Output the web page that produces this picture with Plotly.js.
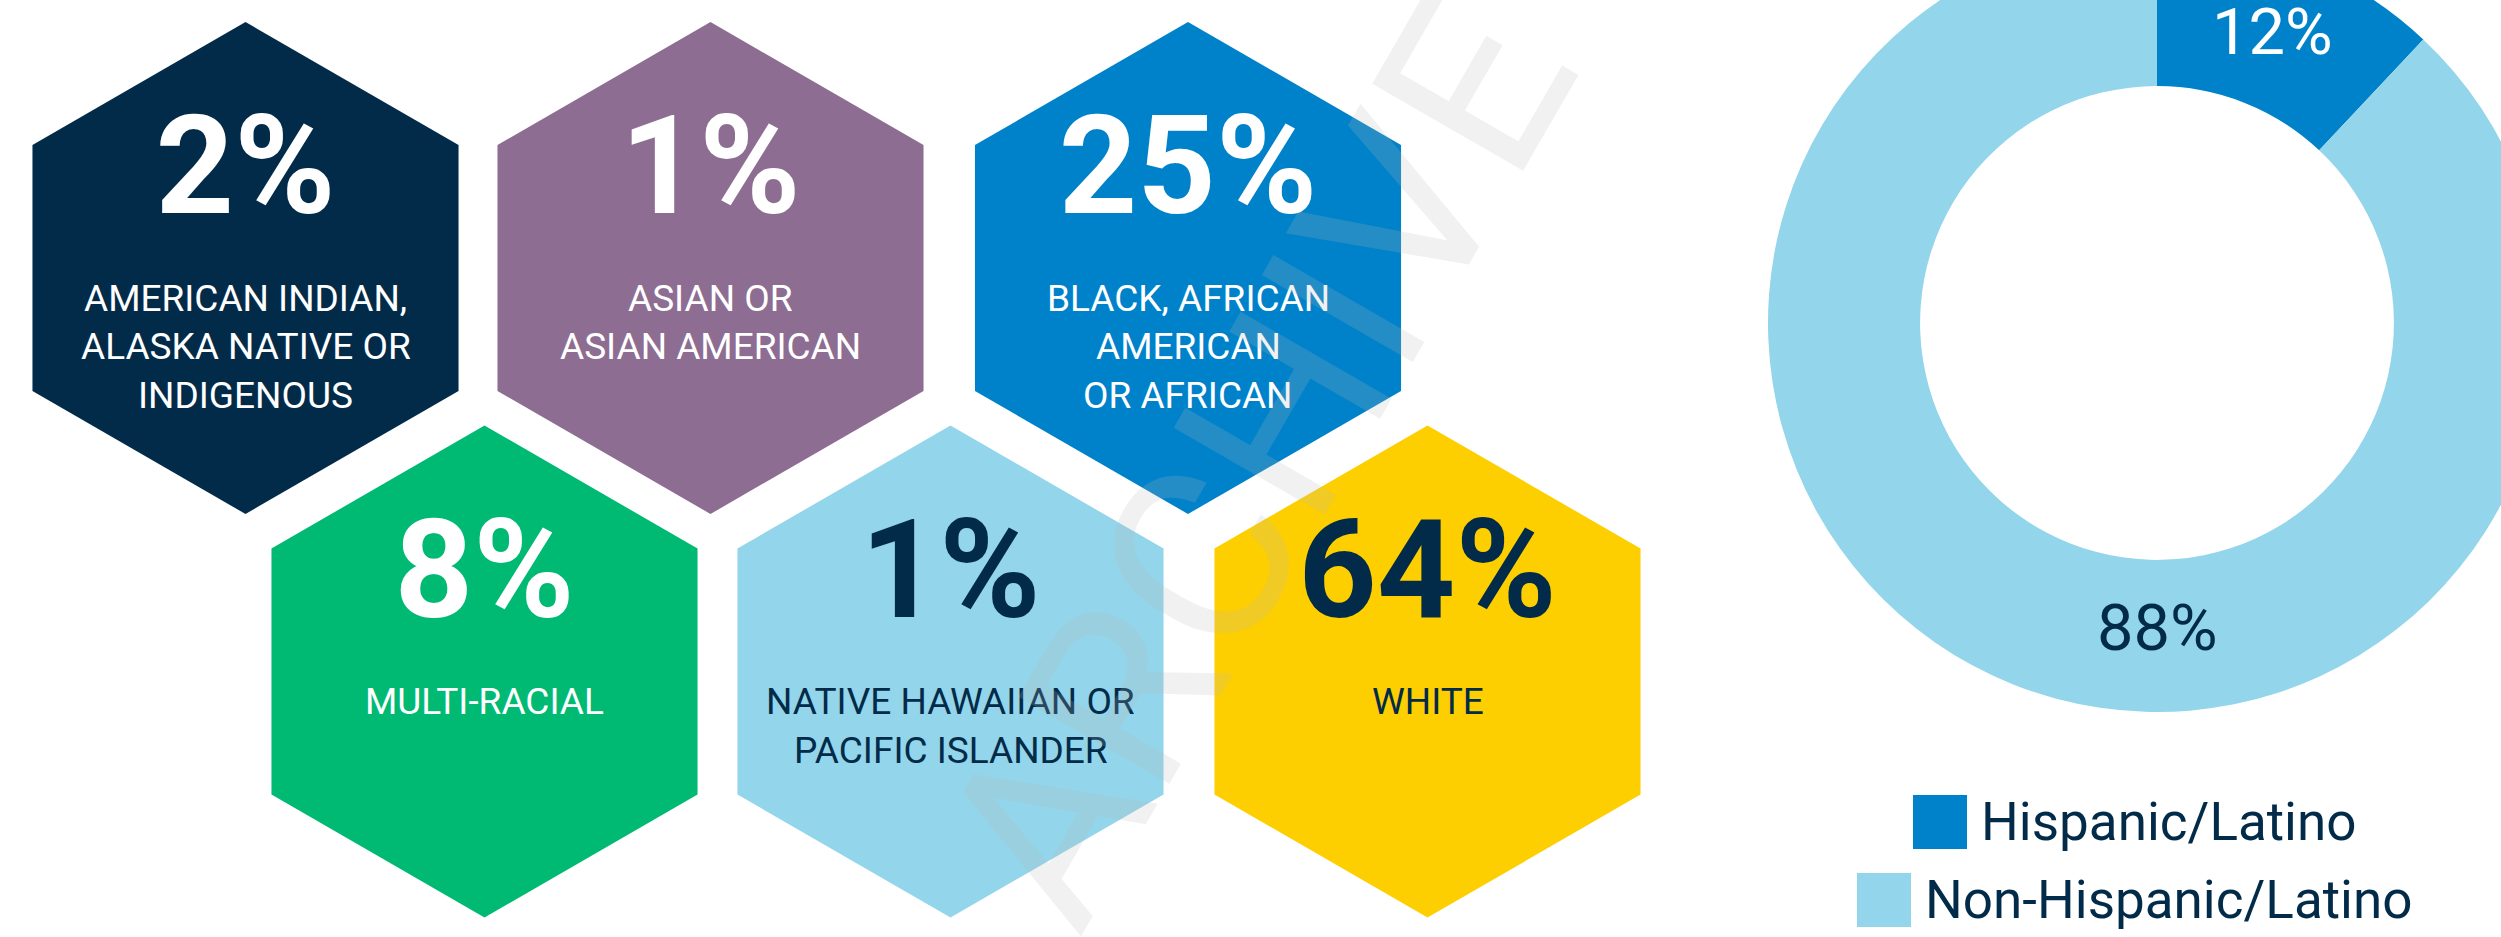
<!DOCTYPE html>
<html>
<head>
<meta charset="utf-8">
<script src="https://cdn.plot.ly/plotly-3.0.1.min.js"></script>
<style>
  html, body { margin: 0; padding: 0; background: #ffffff; overflow: hidden; width: 2501px; height: 937px; }
  #chart { position: absolute; left: 0; top: -80px; width: 2560px; height: 1017px; }
</style>
</head>
<body>
<div id="chart"></div>
<script>
// ---------------- DATA ----------------
const raceGroups = [
  'AMERICAN INDIAN,<br>ALASKA NATIVE OR<br>INDIGENOUS',
  'ASIAN OR<br>ASIAN AMERICAN',
  'BLACK, AFRICAN<br>AMERICAN<br>OR AFRICAN',
  'MULTI-RACIAL',
  'NATIVE HAWAIIAN OR<br>PACIFIC ISLANDER',
  'WHITE'
];
const raceShares = [2, 1, 25, 8, 1, 64];

const ethnicityLabels = ['Hispanic/Latino', 'Non-Hispanic/Latino'];
const ethnicityValues = [12, 88];

// ---------------- LAYOUT / STYLE ----------------
const PAGE_W = 2560, PAGE_TOP = -80, PAGE_BOTTOM = 937;
const PAGE_H = PAGE_BOTTOM - PAGE_TOP;

const hexCenterX = [245.5, 710.5, 1188, 484.5, 950.5, 1427.5];
const hexCenterY = [268, 268, 268, 671.5, 671.5, 671.5];
const hexRadius = 246;
const hexFill = ['#022b49', '#8e6d93', '#0082ca', '#00ba74', '#93d5ea', '#fecf00'];
const hexText = ['#ffffff', '#ffffff', '#ffffff', '#ffffff', '#022b49', '#022b49'];
const pctOffset = -89;
const labelOffset = 30;
const labelLineGap = 48.5;

const pieCX = 2157, pieCY = 323, pieR = 389, pieHole = 0.609;
const pieColors = ['#0082ca', '#93d5ea'];
const legendX = [1940, 1884];
const legendY = [822, 900];

const FONT = 'Roboto, "Noto Sans", sans-serif';
const NAVY = '#022b49';

function hexPath(cx, cy, r) {
  const xs = [], ys = [];
  for (let k = 0; k <= 6; k++) {
    const a = (90 - 60 * k) * Math.PI / 180;
    xs.push(cx + r * Math.cos(a));
    ys.push(cy - r * Math.sin(a));
  }
  return { xs, ys };
}

const traces = [];
raceGroups.forEach((g, i) => {
  const p = hexPath(hexCenterX[i], hexCenterY[i], hexRadius);
  traces.push({
    type: 'scatter', mode: 'lines', x: p.xs, y: p.ys,
    fill: 'toself', fillcolor: hexFill[i], line: { width: 0, color: hexFill[i] },
    hoverinfo: 'skip', showlegend: false
  });
});

// percentages
traces.push({
  type: 'scatter', mode: 'text',
  x: hexCenterX,
  y: hexCenterY.map(v => v + pctOffset),
  text: raceShares.map(v => v + '%'),
  textposition: 'middle center',
  textfont: { family: FONT, size: 137, weight: 700, color: hexText },
  hoverinfo: 'skip', showlegend: false
});

// donut
traces.push({
  type: 'pie',
  labels: ethnicityLabels,
  values: ethnicityValues,
  hole: pieHole,
  sort: false,
  direction: 'clockwise',
  rotation: 0,
  marker: { colors: pieColors, line: { width: 0 } },
  textinfo: 'percent',
  texttemplate: '%{percent:.0%}',
  textposition: ['inside', 'none'],
  insidetextorientation: 'horizontal',
  insidetextfont: { family: FONT, size: 65, color: '#ffffff' },
  showlegend: false,
  hoverinfo: 'label+percent',
  domain: {
    x: [(pieCX - pieR) / PAGE_W, (pieCX + pieR) / PAGE_W],
    y: [1 - (pieCY + pieR - PAGE_TOP) / PAGE_H, 1 - (pieCY - pieR - PAGE_TOP) / PAGE_H]
  }
});

// legend swatches
traces.push({
  type: 'scatter', mode: 'markers',
  x: legendX, y: legendY,
  marker: { symbol: 'square', size: 54, color: pieColors, line: { width: 0 } },
  hoverinfo: 'skip', showlegend: false
});

const annotations = [];
raceGroups.forEach((g, i) => {
  g.split('<br>').forEach((line, j) => {
    annotations.push({
      xref: 'x', yref: 'y',
      x: hexCenterX[i],
      y: hexCenterY[i] + labelOffset + j * labelLineGap,
      text: line, showarrow: false,
      xanchor: 'center', yanchor: 'middle',
      font: { family: FONT, size: 37, color: hexText[i] }
    });
  });
});

// 88% label below donut centre
const rMid = pieR * (1 + pieHole) / 2;
annotations.push({
  xref: 'x', yref: 'y', x: pieCX, y: pieCY + rMid - 8,
  text: ethnicityValues[1] + '%', showarrow: false,
  xanchor: 'center', yanchor: 'middle',
  font: { family: FONT, size: 65, color: NAVY }
});

// legend labels
ethnicityLabels.forEach((l, i) => {
  annotations.push({
    xref: 'x', yref: 'y', x: legendX[i] + 27 + 12, y: legendY[i],
    text: l, showarrow: false, xanchor: 'left', yanchor: 'middle',
    font: { family: FONT, size: 53, color: NAVY }
  });
});

// watermark
annotations.push({
  xref: 'x', yref: 'y', x: 1258, y: 462,
  text: 'ARCHIVE', showarrow: false, textangle: -60,
  font: { family: FONT, size: 245, color: 'rgba(185,185,185,0.2)' }
});

const layout = {
  width: PAGE_W, height: PAGE_H,
  margin: { l: 0, r: 0, t: 0, b: 0, pad: 0 },
  paper_bgcolor: '#ffffff', plot_bgcolor: 'rgba(0,0,0,0)',
  showlegend: false,
  xaxis: { range: [0, PAGE_W], visible: false, fixedrange: true },
  yaxis: { range: [PAGE_BOTTOM, PAGE_TOP], visible: false, fixedrange: true },
  annotations: annotations
};

Plotly.newPlot('chart', traces, layout, { staticPlot: true, displayModeBar: false });
</script>
</body>
</html>
